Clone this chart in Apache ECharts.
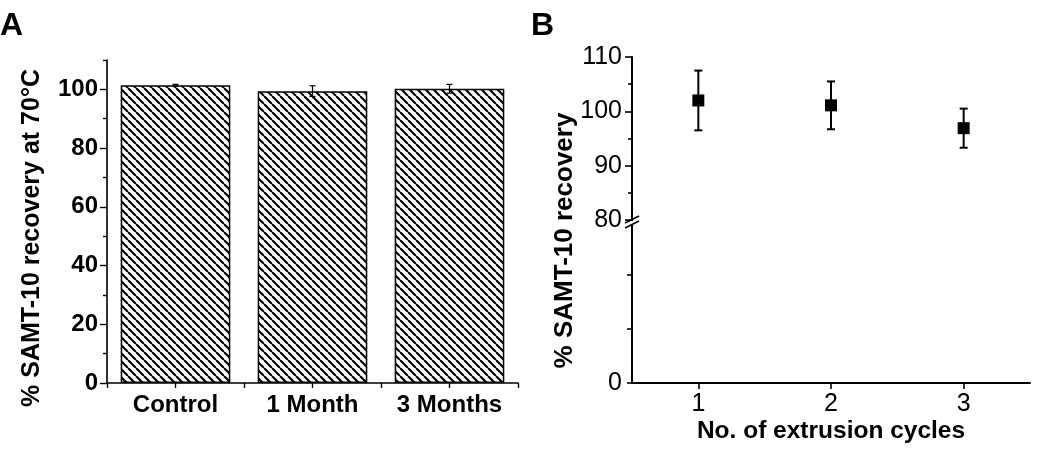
<!DOCTYPE html>
<html>
<head>
<meta charset="utf-8">
<script src="https://cdn.jsdelivr.net/npm/echarts@6/dist/echarts.min.js"></script>
<style>
html,body{margin:0;padding:0;background:#fff;}
#chart{width:1050px;height:462px;}
</style>
</head>
<body>
<div id="chart"></div>
<script>
// ---- Panel A data ----
const categoriesA = ['Control', '1 Month', '3 Months'];
const recoveryA = [101.4, 99.4, 100.2];
const errorA = [0.3, 1.8, 1.5];
const yMajorTicksA = [0, 20, 40, 60, 80, 100];
const yMinorTicksA = [10, 30, 50, 70, 90, 110];

// ---- Panel B data ----
const cyclesB = [1, 2, 3];
const recoveryB = [102.0, 101.1, 96.9];
const errorB = [5.5, 4.4, 3.6];
const xTicksB = [1, 2, 3];
const yLowerTicksB = [0, 26.67, 53.33];
const yLowerLabelsB = [0];

const FONT = 'Liberation Sans, Arial, sans-serif';

function makeHatch() {
  const s = 8;
  const c = document.createElement('canvas');
  c.width = s; c.height = s;
  const ctx = c.getContext('2d');
  ctx.fillStyle = '#fff';
  ctx.fillRect(0, 0, s, s);
  ctx.strokeStyle = '#000';
  ctx.lineWidth = 2.1;
  for (const o of [-s, 0, s]) {
    ctx.beginPath();
    ctx.moveTo(o, 0);
    ctx.lineTo(o + s, s);
    ctx.stroke();
  }
  return c;
}

function errRender(capHalf, lw) {
  return function (params, api) {
    const x = api.value(0), v = api.value(1), e = api.value(2);
    const top = api.coord([x, v + e]);
    const bot = api.coord([x, v - e]);
    const st = { stroke: '#000', lineWidth: lw };
    return {
      type: 'group',
      children: [
        { type: 'line', shape: { x1: top[0], y1: top[1], x2: bot[0], y2: bot[1] }, style: st },
        { type: 'line', shape: { x1: top[0] - capHalf, y1: top[1], x2: top[0] + capHalf, y2: top[1] }, style: st },
        { type: 'line', shape: { x1: bot[0] - capHalf, y1: bot[1], x2: bot[0] + capHalf, y2: bot[1] }, style: st }
      ]
    };
  };
}

const chart = echarts.init(document.getElementById('chart'), null, { renderer: 'canvas' });

const axisLineStyle = { color: '#000', width: 1.6 };

const letters = [
  { type: 'text', left: 0, top: 10, style: { text: 'A', fontSize: 32, fontWeight: 'bold', fontFamily: FONT, fill: '#000' } },
  { type: 'text', left: 531, top: 10, style: { text: 'B', fontSize: 32, fontWeight: 'bold', fontFamily: FONT, fill: '#000' } }
];

const option = {
  backgroundColor: '#fff',
  animation: false,
  textStyle: { fontFamily: FONT },
  grid: [
    { left: 107, top: 60, width: 411, height: 323 },
    { left: 632, top: 57, width: 398, height: 163 },
    { left: 632, top: 220, width: 398, height: 163 }
  ],
  xAxis: [
    {
      type: 'category', gridIndex: 0, data: categoriesA, position: 'bottom',
      axisLine: { lineStyle: axisLineStyle },
      axisTick: { show: true, length: 5, interval: 0, lineStyle: { color: '#000', width: 1.4 } },
      axisLabel: { interval: 0, margin: 10, color: '#000', fontSize: 24, fontWeight: 'bold', fontFamily: FONT }
    },
    {
      type: 'category', gridIndex: 0, data: categoriesA, position: 'bottom',
      axisLine: { show: false },
      axisTick: { show: true, alignWithLabel: true, length: 5, lineStyle: { color: '#000', width: 1.4 } },
      axisLabel: { show: false },
      splitLine: { show: false }
    },
    {
      type: 'value', gridIndex: 1, min: 0.5, max: 3.5, show: false, splitLine: { show: false }
    },
    {
      type: 'value', gridIndex: 2, min: 0.5, max: 3.5, position: 'bottom',
      axisLine: { lineStyle: { color: '#000', width: 2 } },
      axisTick: { show: true, length: 6, customValues: xTicksB, lineStyle: { color: '#000', width: 1.6 } },
      axisLabel: { customValues: xTicksB, margin: 9, color: '#000', fontSize: 25, fontFamily: FONT },
      splitLine: { show: false },
      name: 'No. of extrusion cycles', nameLocation: 'middle', nameGap: 36,
      nameTextStyle: { color: '#000', fontSize: 24.5, fontWeight: 'bold', fontFamily: FONT }
    }
  ],
  yAxis: [
    {
      type: 'value', gridIndex: 0, min: 0, max: 110, position: 'left',
      axisLine: { show: true, lineStyle: axisLineStyle },
      axisTick: { show: true, length: 7, customValues: yMajorTicksA, lineStyle: { color: '#000', width: 1.4 } },
      axisLabel: { customValues: yMajorTicksA, margin: 9, color: '#000', fontSize: 24, fontWeight: 'bold', fontFamily: FONT },
      splitLine: { show: false },
      name: '% SAMT-10 recovery at 70°C', nameLocation: 'middle', nameRotate: 90, nameGap: 62,
      nameTextStyle: { color: '#000', fontSize: 25, fontWeight: 'bold', fontFamily: FONT, padding: [0, 33, 0, 0] }
    },
    {
      type: 'value', gridIndex: 0, min: 0, max: 110, position: 'left',
      axisLine: { show: false },
      axisTick: { show: true, length: 4, customValues: yMinorTicksA, lineStyle: { color: '#000', width: 1.4 } },
      axisLabel: { show: false },
      splitLine: { show: false }
    },
    {
      type: 'value', gridIndex: 1, min: 80, max: 110, interval: 10, position: 'left',
      axisLine: { show: true, lineStyle: { color: '#000', width: 2 } },
      axisTick: { show: true, length: 7, lineStyle: { color: '#000', width: 1.6 } },
      minorTick: { show: true, splitNumber: 2, length: 4, lineStyle: { color: '#000', width: 1.6 } },
      axisLabel: { margin: 10, color: '#000', fontSize: 25, fontFamily: FONT },
      splitLine: { show: false }
    },
    {
      type: 'value', gridIndex: 2, min: 0, max: 80, position: 'left',
      axisLine: { show: true, lineStyle: { color: '#000', width: 2 } },
      axisTick: { show: true, length: 5, customValues: yLowerTicksB, lineStyle: { color: '#000', width: 1.6 } },
      axisLabel: { customValues: yLowerLabelsB, margin: 10, color: '#000', fontSize: 25, fontFamily: FONT },
      splitLine: { show: false },
      name: '% SAMT-10 recovery', nameLocation: 'middle', nameRotate: 90, nameGap: 54,
      nameTextStyle: { color: '#000', fontSize: 26, fontWeight: 'bold', fontFamily: FONT, padding: [0, 0, 0, 122] }
    }
  ],
  series: [
    {
      type: 'bar', xAxisIndex: 0, yAxisIndex: 0, data: recoveryA, barWidth: '80%',
      itemStyle: { color: { image: makeHatch(), repeat: 'repeat' }, borderColor: '#000', borderWidth: 1.5 },
      z: 2
    },
    {
      type: 'custom', xAxisIndex: 0, yAxisIndex: 0,
      data: recoveryA.map((v, i) => [i, v, errorA[i]]),
      encode: { x: 0, y: 1 },
      renderItem: errRender(3, 1.2), z: 5
    },
    {
      type: 'custom', xAxisIndex: 2, yAxisIndex: 2,
      data: recoveryB.map((v, i) => [cyclesB[i], v, errorB[i]]),
      encode: { x: 0, y: 1 },
      renderItem: errRender(4, 2), z: 4
    },
    {
      type: 'scatter', xAxisIndex: 2, yAxisIndex: 2,
      data: recoveryB.map((v, i) => [cyclesB[i], v]),
      symbol: 'rect', symbolSize: 12,
      itemStyle: { color: '#000', opacity: 1 }, z: 6
    }
  ],
  graphic: letters
};

chart.setOption(option);

// axis-break mark on panel B's y-axis at the 80 boundary
const p = chart.convertToPixel({ gridIndex: 1 }, [0.5, 80]);
const bx = p[0], by = p[1] + 2;
chart.setOption({
  graphic: letters.concat([
    { type: 'rect', shape: { x: bx - 2, y: by - 1, width: 4, height: 3 }, style: { fill: '#fff' }, z: 100 },
    { type: 'line', shape: { x1: bx - 7, y1: by + 1, x2: bx + 7, y2: by - 6 }, style: { stroke: '#000', lineWidth: 1.8 }, z: 101 },
    { type: 'line', shape: { x1: bx - 7, y1: by + 6, x2: bx + 7, y2: by - 1 }, style: { stroke: '#000', lineWidth: 1.8 }, z: 101 }
  ])
}, { replaceMerge: ['graphic'] });
</script>
</body>
</html>
